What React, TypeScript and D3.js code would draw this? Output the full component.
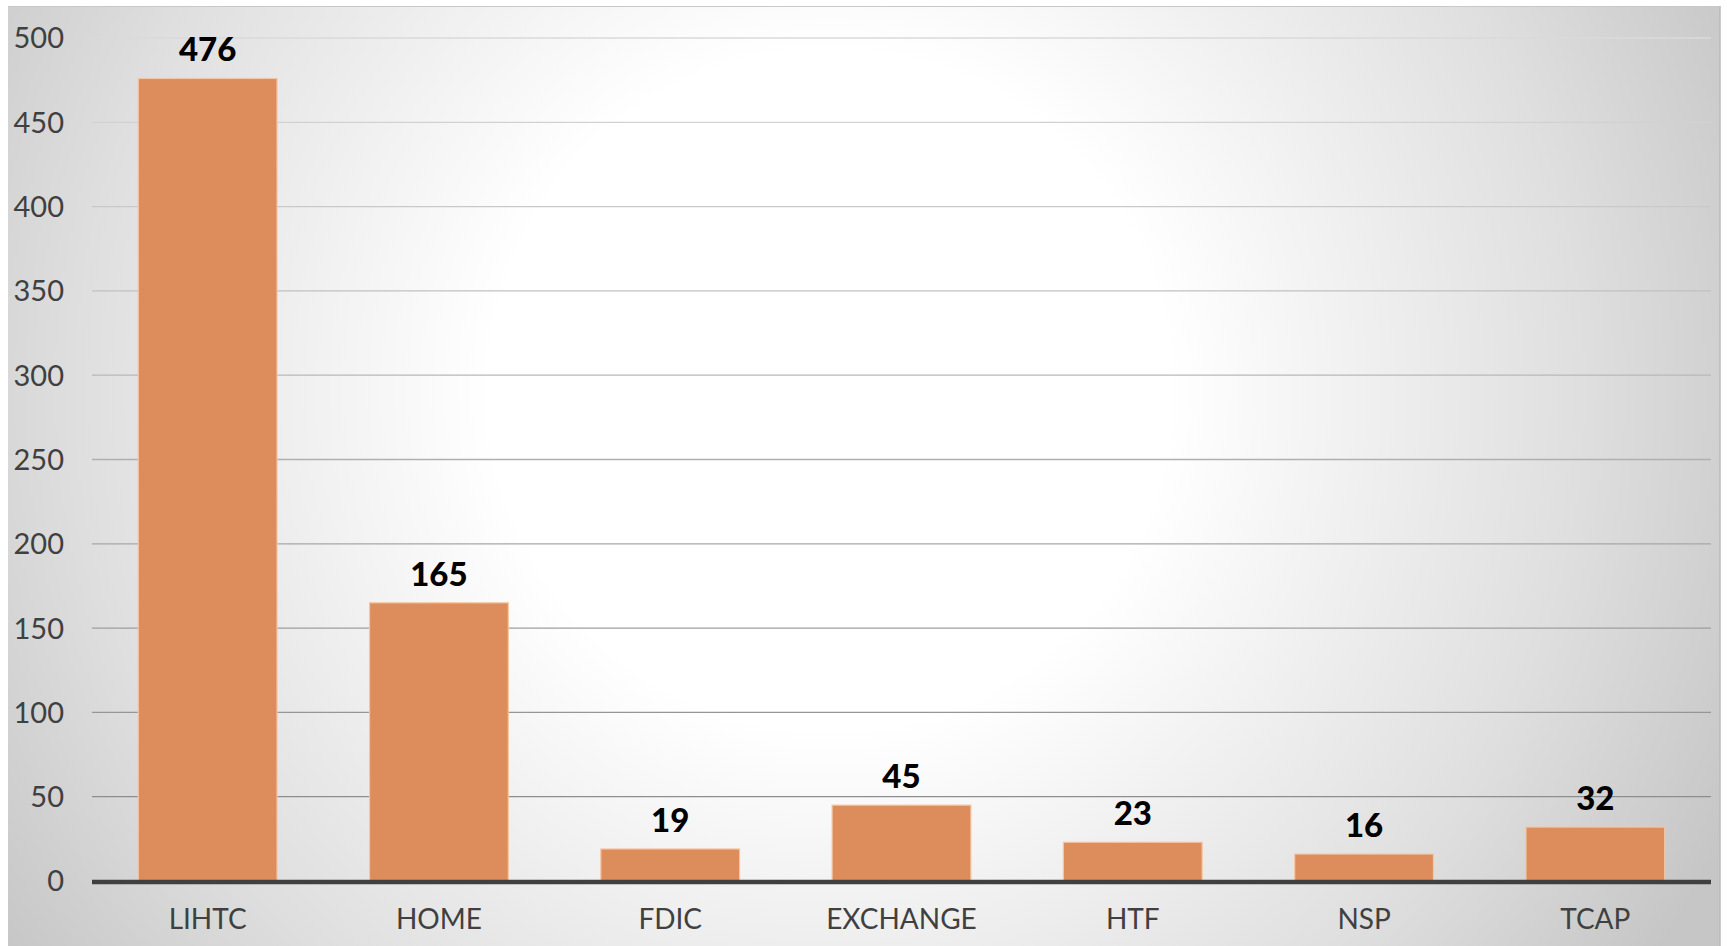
import React, { useEffect, useRef } from 'react';
import * as d3 from 'd3';

const categories = ['LIHTC', 'HOME', 'FDIC', 'EXCHANGE', 'HTF', 'NSP', 'TCAP'];
const counts = [476, 165, 19, 45, 23, 16, 32];
const yTicks = [0, 50, 100, 150, 200, 250, 300, 350, 400, 450, 500];

const W = 1727;
const H = 946;

const App: React.FC = () => {
  const svgRef = useRef<SVGSVGElement>(null);

  useEffect(() => {
    if (!svgRef.current) return;
    const svg = d3.select(svgRef.current);
    svg.selectAll('*').remove();

    const left = 92, right = 1711, top = 38, bottom = 881;
    const font = 'Lato, "Open Sans", sans-serif';

    const x = d3.scaleBand<string>()
      .domain(categories)
      .range([left, right])
      .paddingInner(0.4)
      .paddingOuter(0.2);
    const y = d3.scaleLinear().domain([0, 500]).range([bottom, top]);

    const defs = svg.append('defs');
    const bg = defs.append('radialGradient')
      .attr('id', 'bg')
      .attr('gradientUnits', 'userSpaceOnUse')
      .attr('cx', 830).attr('cy', 390).attr('r', 1000);
    bg.append('stop').attr('offset', '0').attr('stop-color', '#ffffff');
    bg.append('stop').attr('offset', '0.34').attr('stop-color', '#ffffff');
    bg.append('stop').attr('offset', '0.75').attr('stop-color', '#dfdfdf');
    bg.append('stop').attr('offset', '1').attr('stop-color', '#c6c6c6');

    const grid = defs.append('linearGradient')
      .attr('id', 'grid')
      .attr('gradientUnits', 'userSpaceOnUse')
      .attr('x1', 0).attr('x2', 0).attr('y1', top).attr('y2', bottom);
    grid.append('stop').attr('offset', '0').attr('stop-color', '#dadada');
    grid.append('stop').attr('offset', '1').attr('stop-color', '#858585');

    // panel
    svg.append('rect')
      .attr('x', 8).attr('y', 6)
      .attr('width', 1712).attr('height', H - 6)
      .attr('fill', 'url(#bg)');
    svg.append('line')
      .attr('x1', 1720).attr('x2', 1720).attr('y1', 6).attr('y2', H)
      .attr('stroke', '#bababa').attr('stroke-width', 1.5);
    svg.append('line')
      .attr('x1', 8).attr('x2', 1720).attr('y1', 6.5).attr('y2', 6.5)
      .attr('stroke', '#c8c8c8').attr('stroke-width', 1);

    // gridlines
    svg.append('g')
      .selectAll('line')
      .data(yTicks.filter(t => t > 0))
      .enter()
      .append('line')
      .attr('x1', left).attr('x2', right)
      .attr('y1', d => y(d)).attr('y2', d => y(d))
      .attr('stroke', 'url(#grid)')
      .attr('stroke-width', 1.3);

    // y tick labels
    svg.append('g')
      .selectAll('text')
      .data(yTicks)
      .enter()
      .append('text')
      .attr('x', 64)
      .attr('y', d => y(d))
      .attr('dy', '0.36em')
      .attr('text-anchor', 'end')
      .attr('fill', '#404040')
      .style('font-family', font)
      .style('font-size', '29px')
      .text(d => d);

    // bars
    svg.append('g')
      .selectAll('rect')
      .data(categories)
      .enter()
      .append('rect')
      .attr('x', d => x(d)!)
      .attr('width', x.bandwidth())
      .attr('y', (d, i) => y(counts[i]))
      .attr('height', (d, i) => bottom - y(counts[i]))
      .attr('fill', '#dd8c5c')
      .attr('stroke', '#f3c7a6')
      .attr('stroke-width', 1.2);

    // value labels
    svg.append('g')
      .selectAll('text')
      .data(categories)
      .enter()
      .append('text')
      .attr('x', d => x(d)! + x.bandwidth() / 2)
      .attr('y', (d, i) => y(counts[i]) - 17)
      .attr('text-anchor', 'middle')
      .attr('fill', '#000000')
      .style('font-family', font)
      .style('font-size', '33px')
      .style('font-weight', '900')
      .text((d, i) => counts[i]);

    // x axis
    svg.append('line')
      .attr('x1', left).attr('x2', right)
      .attr('y1', bottom + 1).attr('y2', bottom + 1)
      .attr('stroke', '#404040')
      .attr('stroke-width', 4.5);

    svg.append('g')
      .selectAll('text')
      .data(categories)
      .enter()
      .append('text')
      .attr('x', d => x(d)! + x.bandwidth() / 2)
      .attr('y', 929)
      .attr('text-anchor', 'middle')
      .attr('fill', '#404040')
      .style('font-family', font)
      .style('font-size', '28px')
      .text(d => d);
  }, []);

  return (
    <svg
      ref={svgRef}
      width={W}
      height={H}
      viewBox={`0 0 ${W} ${H}`}
      style={{ position: 'absolute', left: 0, top: 0, background: '#ffffff' }}
    />
  );
};

export default App;
